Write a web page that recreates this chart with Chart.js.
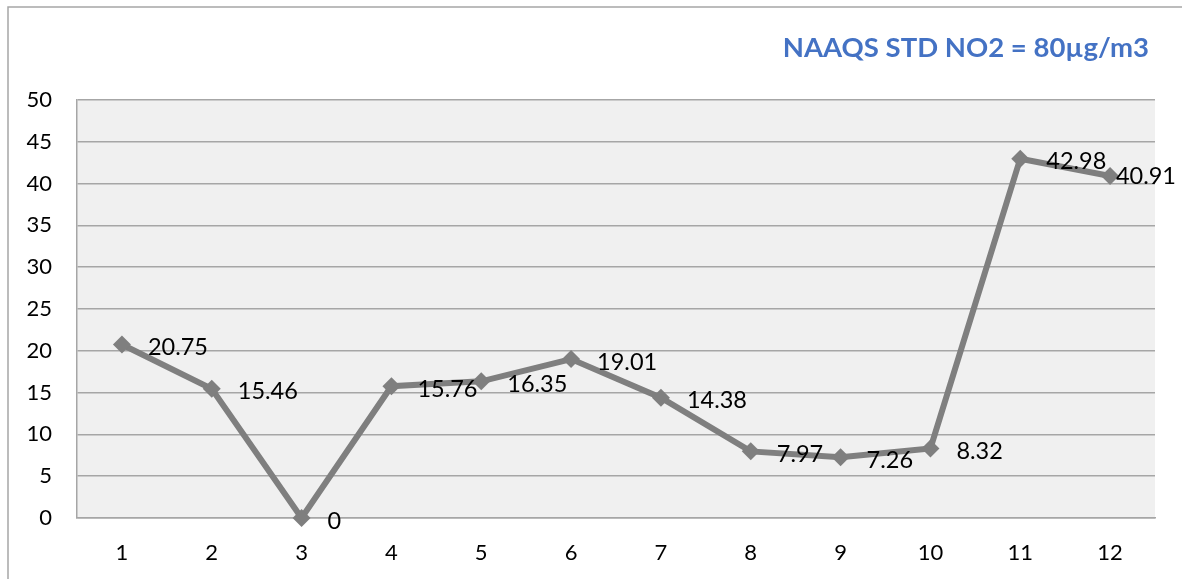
<!DOCTYPE html>
<html>
<head>
<meta charset="utf-8">
<script src="https://cdn.jsdelivr.net/npm/chart.js@4.4.1/dist/chart.umd.min.js"></script>
<style>
  html, body { margin: 0; padding: 0; background: #fff; }
  #wrap { width: 1182px; height: 579px; }
</style>
</head>
<body>
<div id="wrap"><canvas id="myChart" width="1182" height="579"></canvas></div>
<script>
'use strict'

// chart data
var categories = ['1', '2', '3', '4', '5', '6', '7', '8', '9', '10', '11', '12'];
var no2Values = [20.75, 15.46, 0, 15.76, 16.35, 19.01, 14.38, 7.97, 7.26, 8.32, 42.98, 40.91];
var yTicks = [0, 5, 10, 15, 20, 25, 30, 35, 40, 45, 50];
var titleText = 'NAAQS STD NO2 = 80µg/m3';

var fontFamily = 'Lato, "Open Sans", sans-serif';

// gray plot area + the outer frame of the picture
var backdrop = {
    id: 'backdrop',
    beforeDraw: function (chart) {
        var c = chart.ctx, a = chart.chartArea;
        c.save();
        c.fillStyle = '#f0f0f0';
        c.fillRect(a.left, a.top, a.right - a.left, a.bottom - a.top);
        c.strokeStyle = '#a6a6a6';
        c.lineWidth = 1.5;
        c.beginPath();
        c.moveTo(8, chart.height + 2);
        c.lineTo(8, 7);
        c.lineTo(chart.width + 2, 7);
        c.stroke();
        c.restore();
    }
};

// title in the top right corner
var cornerTitle = {
    id: 'cornerTitle',
    afterDraw: function (chart) {
        var c = chart.ctx;
        c.save();
        c.font = 'bold 27.5px ' + fontFamily;
        c.fillStyle = '#4472c4';
        c.textAlign = 'right';
        c.textBaseline = 'middle';
        c.fillText(titleText, 1149, 48);
        c.restore();
    }
};

// value labels right of each point, pushed back in if they would run off
var valueLabels = {
    id: 'valueLabels',
    afterDatasetsDraw: function (chart) {
        var c = chart.ctx;
        var meta = chart.getDatasetMeta(0);
        c.save();
        c.font = '23.5px ' + fontFamily;
        c.fillStyle = '#000';
        c.textAlign = 'left';
        c.textBaseline = 'middle';
        meta.data.forEach(function (pt, i) {
            var txt = String(no2Values[i]);
            var w = c.measureText(txt).width;
            var x = pt.x + 26;
            var y = pt.y + 3;
            if (x + w > chart.width - 6) {
                x = chart.width - 6 - w;
                y = pt.y;
            }
            c.fillText(txt, x, y);
        });
        c.restore();
    }
};

var ctx = document.getElementById('myChart').getContext('2d');

var chart = new Chart(ctx, {
    type: 'line',
    data: {
        labels: categories,
        datasets: [{
            label: 'NO2',
            data: no2Values,
            borderColor: '#7f7f7f',
            backgroundColor: '#7f7f7f',
            borderWidth: 6,
            pointStyle: 'rectRot',
            pointRadius: 9,
            pointBorderWidth: 0,
            tension: 0,
            clip: false
        }]
    },
    options: {
        responsive: false,
        animation: false,
        devicePixelRatio: 1,
        layout: {
            padding: { left: 0, right: 27, top: 100, bottom: 0 }
        },
        plugins: {
            legend: { display: false },
            tooltip: { enabled: false },
            title: { display: false }
        },
        scales: {
            x: {
                offset: true,
                grid: { display: false, drawTicks: false },
                border: { display: true, color: '#a6a6a6', width: 1.5 },
                ticks: {
                    color: '#000',
                    padding: 22,
                    font: { family: fontFamily, size: 22 }
                },
                afterFit: function (scale) { scale.height = 61; }
            },
            y: {
                min: 0,
                max: 50,
                afterBuildTicks: function (scale) {
                    scale.ticks = yTicks.map(function (v) { return { value: v }; });
                },
                grid: { color: '#a6a6a6', lineWidth: 1.5, drawTicks: false },
                border: { display: true, color: '#a6a6a6', width: 1.5 },
                ticks: {
                    color: '#000',
                    padding: 25,
                    font: { family: fontFamily, size: 22 }
                },
                afterFit: function (scale) { scale.width = 77; }
            }
        }
    },
    plugins: [backdrop, cornerTitle, valueLabels]
});
</script>
</body>
</html>
